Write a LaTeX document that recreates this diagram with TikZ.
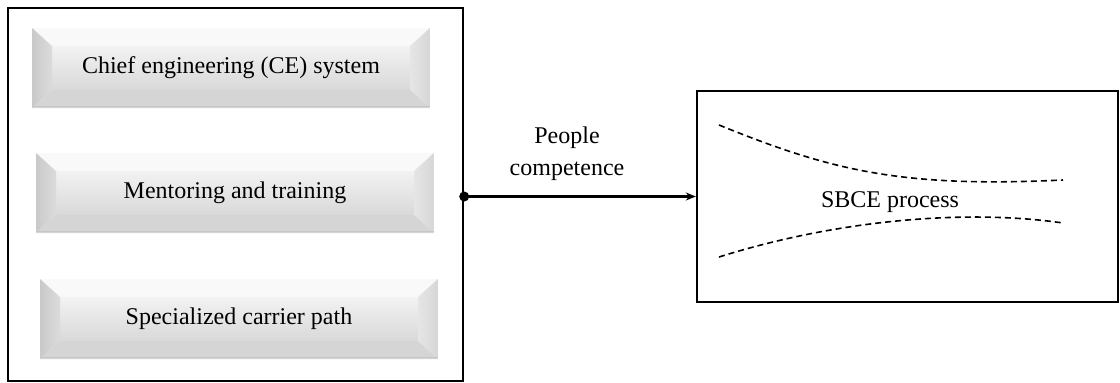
\documentclass[tikz,border=0pt]{standalone}
\usepackage{fontspec}
\setmainfont{Liberation Serif}
\usetikzlibrary{calc,arrows.meta}
\begin{document}
\begin{tikzpicture}[x=1pt,y=-1pt,
  frame/.style={draw=black, line width=2.4pt, fill=white, inner sep=0pt},
  lbl/.style={font=\fontsize{24}{32}\selectfont, align=center},
  bevelbox/.style={minimum width=398pt, minimum height=80pt, inner sep=0pt,
    font=\fontsize{24}{28}\selectfont,
    path picture={
      \coordinate (NW) at (path picture bounding box.north west);
      \coordinate (NE) at (path picture bounding box.north east);
      \coordinate (SW) at (path picture bounding box.south west);
      \coordinate (SE) at (path picture bounding box.south east);
      \coordinate (nw) at ([shift={(20pt,-18pt)}]NW);
      \coordinate (ne) at ([shift={(-20pt,-18pt)}]NE);
      \coordinate (sw) at ([shift={(20pt,18pt)}]SW);
      \coordinate (se) at ([shift={(-20pt,18pt)}]SE);
      \shade[top color=gray!10, bottom color=gray!30] (nw) rectangle (se);
      \fill[gray!5] (NW) -- (NE) -- (ne) -- (nw) -- cycle;
      \shade[left color=gray!42, right color=gray!28] (NW) -- (nw) -- (sw) -- (SW) -- cycle;
      \shade[left color=gray!20, right color=gray!32] (NE) -- (ne) -- (se) -- (SE) -- cycle;
      \fill[gray!33] (SW) -- (sw) -- (se) -- (SE) -- cycle;
    }},
  shadowline/.style={draw=gray!45, line width=1.5pt}
]
\useasboundingbox (0,0) rectangle (1120,383);

% left container
\node[frame, minimum width=455pt, minimum height=373pt] (leftbox) at (235.5,194.5) {};

% bevel boxes
\node[bevelbox] (ce) at (231,68) {Chief engineering (CE) system};
\node[bevelbox] (mt) at (235,193) {Mentoring and training};
\node[bevelbox] (sc) at (239,319) {Specialized carrier path};
\draw[shadowline] ([yshift=1.5pt]ce.south west) -- ([yshift=1.5pt]ce.south east);
\draw[shadowline] ([yshift=1.5pt]mt.south west) -- ([yshift=1.5pt]mt.south east);
\draw[shadowline] ([yshift=1.5pt]sc.south west) -- ([yshift=1.5pt]sc.south east);

% right box
\node[frame, minimum width=421pt, minimum height=211pt] (sbce) at (907.5,196.5) {};
\node[lbl] (sbcetxt) at (890,202) {SBCE process};

% dashed funnel curves
\coordinate (u1) at (719,125);
\coordinate (u2) at (1063,180);
\coordinate (l1) at (719,257);
\coordinate (l2) at (1063,223);
\draw[line width=1.6pt, dash pattern=on 6pt off 4pt] (u1) .. controls (830,170) and (900,188) .. (u2);
\draw[line width=1.6pt, dash pattern=on 6pt off 4pt] (l1) .. controls (830,222) and (960,208) .. (l2);

% connector
\coordinate (dot) at (leftbox.east |- sbce.west);
\fill (dot) circle (5pt);
\draw[line width=2.4pt, -{Stealth[length=10pt,width=8pt]}] (dot) -- (sbce.west);
\node[lbl] (pc) at (567,154) {People\\competence};
\end{tikzpicture}
\end{document}
